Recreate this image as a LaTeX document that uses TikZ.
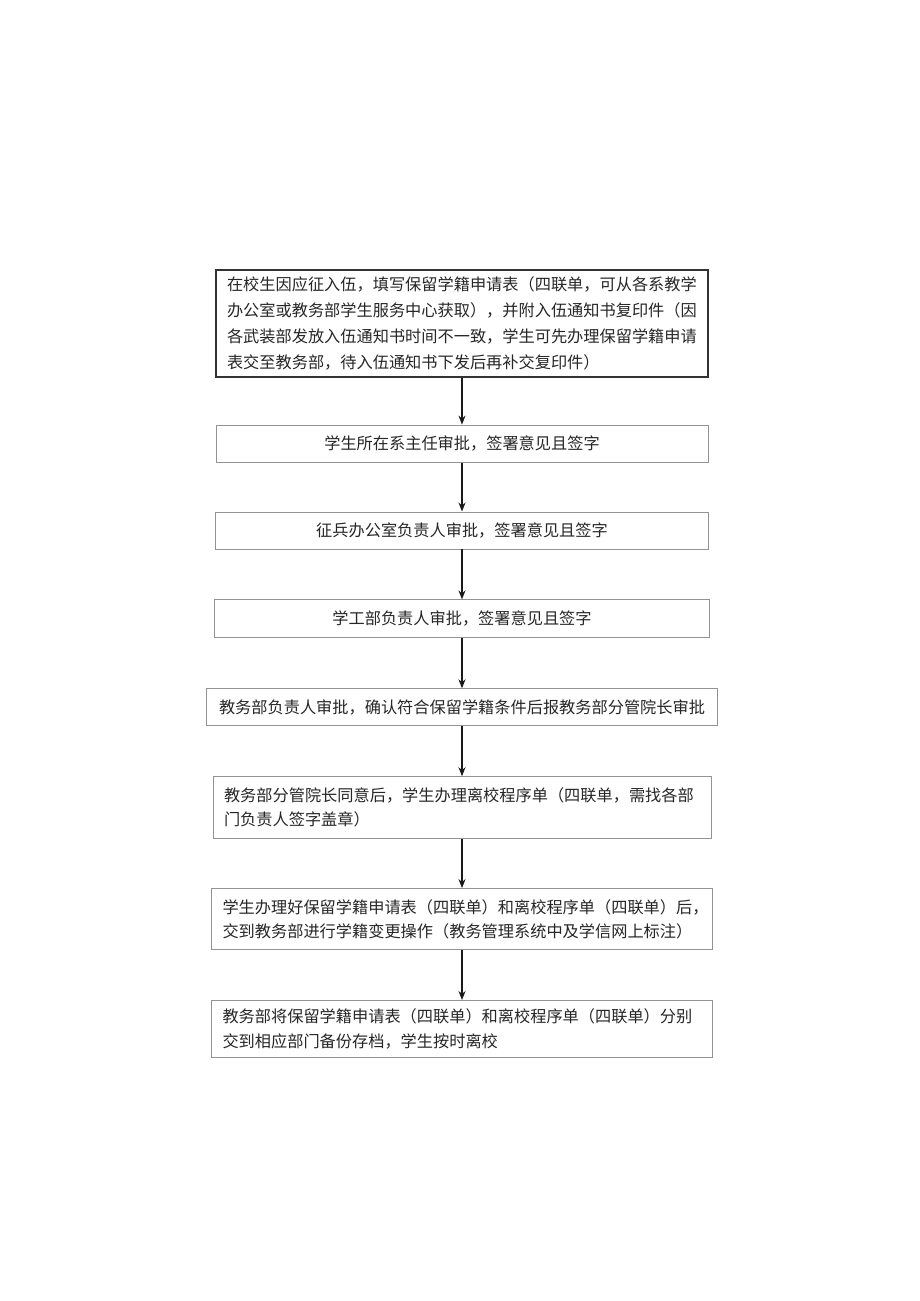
\documentclass[tikz,border=0pt]{standalone}
\usepackage{fontspec}
\setmainfont{Noto Sans CJK SC}
\usetikzlibrary{positioning}
\usetikzlibrary{arrows.meta}

\begin{document}
\begin{tikzpicture}[->,>={Stealth[length=9pt,width=7pt]}, line width=1.2pt, node distance=49pt,
  stepbox/.style={rectangle, draw=gray!85, line width=0.9pt, minimum height=37pt, inner xsep=12pt, inner ysep=4pt, text=black!85, font=\fontsize{16.2pt}{24pt}\selectfont},
  every edge/.style={draw=black!90, line width=1.3pt}]

  \useasboundingbox (0pt,0pt) rectangle (920pt,-1301pt);

  \node[stepbox, draw=black!80, line width=1.2pt, minimum height=107pt, text width=470pt, inner xsep=11pt, align=left, font=\fontsize{16.2pt}{26pt}\selectfont] (apply) at (462pt,-323.5pt)
    {在校生因应征入伍，填写保留学籍申请表（四联单，可从各系教学\\办公室或教务部学生服务中心获取），并附入伍通知书复印件（因\\各武装部发放入伍通知书时间不一致，学生可先办理保留学籍申请\\表交至教务部，待入伍通知书下发后再补交复印件）};
  \node[stepbox, text width=468pt, align=center] (dept) [below = 47pt of apply] {学生所在系主任审批，签署意见且签字};
  \node[stepbox, text width=469pt, align=center] (draft) [below = of dept] {征兵办公室负责人审批，签署意见且签字};
  \node[stepbox, text width=471pt, align=center, minimum height=38pt] (affairs) [below = 50pt of draft] {学工部负责人审批，签署意见且签字};
  \node[stepbox, text width=499pt, inner xsep=6pt, align=center] (office) [below = 50pt of affairs] {教务部负责人审批，确认符合保留学籍条件后报教务部分管院长审批};
  \node[stepbox, text width=476pt, inner xsep=11pt, align=left, minimum height=62pt] (leave) [below = 50pt of office] {教务部分管院长同意后，学生办理离校程序单（四联单，需找各部\\门负责人签字盖章）};
  \node[stepbox, text width=479pt, inner xsep=11pt, align=left, minimum height=61pt] (change) [below = of leave] {学生办理好保留学籍申请表（四联单）和离校程序单（四联单）后，\\交到教务部进行学籍变更操作（教务管理系统中及学信网上标注）};
  \node[stepbox, text width=479pt, inner xsep=11pt, align=left, minimum height=57pt, font=\fontsize{16.2pt}{25pt}\selectfont] (archive) [below = 50pt of change] {教务部将保留学籍申请表（四联单）和离校程序单（四联单）分别\\交到相应部门备份存档，学生按时离校};

  \path
    (apply) edge (dept)
    (dept) edge (draft)
    (draft) edge (affairs)
    (affairs) edge (office)
    (office) edge (leave)
    (leave) edge (change)
    (change) edge (archive)
  ;
\end{tikzpicture}
\end{document}
